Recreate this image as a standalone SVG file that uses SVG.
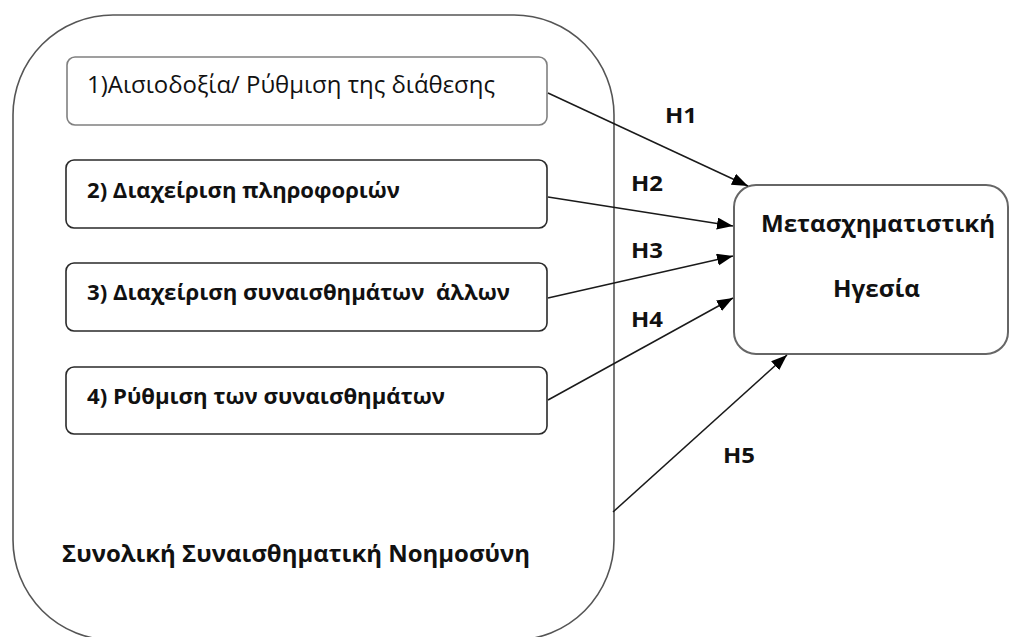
<svg xmlns="http://www.w3.org/2000/svg" width="1011" height="637" viewBox="0 0 1011 637">
<style>
  .t { font-family: "Open Sans", "Noto Sans", "DejaVu Sans", sans-serif; fill: #111; white-space: pre; }
  .b { font-weight: bold; }
  .box { fill: #fff; stroke: #2a2a2a; stroke-width: 1.6; }
  .box1 { fill: #fff; stroke: #808080; stroke-width: 1.6; }
  .outer { fill: none; stroke: #555; stroke-width: 1.6; }
  .target { fill: #fff; stroke: #666; stroke-width: 2; }
  .arr { stroke: #1a1a1a; stroke-width: 1.5; fill: none; marker-end: url(#ah); }
</style>
<defs>
  <marker id="ah" markerUnits="userSpaceOnUse" markerWidth="17" markerHeight="13" refX="16" refY="6" orient="auto">
    <path d="M0,0 L16,6 L0,12 z" fill="#000"/>
  </marker>
</defs>
<rect width="1011" height="637" fill="#fff"/>
<g id="outer-ei">
  <rect class="outer" x="13" y="15" width="601" height="625" rx="100" ry="100"/>
  <text class="t b" x="62" y="562" font-size="23" textLength="468" lengthAdjust="spacingAndGlyphs">Συνολική Συναισθηματική Νοημοσύνη</text>
</g>
<g id="node1">
  <rect class="box1" x="67" y="57" width="480" height="68" rx="8"/>
  <text class="t" x="87" y="93" font-size="23" textLength="408" lengthAdjust="spacingAndGlyphs">1)Αισιοδοξία/ Ρύθμιση της διάθεσης</text>
</g>
<g id="node2">
  <rect class="box" x="66" y="160" width="481" height="68" rx="8"/>
  <text class="t b" x="87" y="198" font-size="22" textLength="313" lengthAdjust="spacingAndGlyphs">2) Διαχείριση πληροφοριών</text>
</g>
<g id="node3">
  <rect class="box" x="66" y="263" width="481" height="68" rx="8"/>
  <text class="t b" x="87" y="300" font-size="22" textLength="423" lengthAdjust="spacingAndGlyphs">3) Διαχείριση συναισθημάτων  άλλων</text>
</g>
<g id="node4">
  <rect class="box" x="66" y="367" width="481" height="67" rx="8"/>
  <text class="t b" x="87" y="404" font-size="22" textLength="358" lengthAdjust="spacingAndGlyphs">4) Ρύθμιση των συναισθημάτων</text>
</g>
<g id="target">
  <rect class="target" x="734" y="185" width="274" height="169" rx="22"/>
  <text class="t b" x="761" y="232" font-size="24" textLength="234" lengthAdjust="spacingAndGlyphs">Μετασχηματιστική</text>
  <text class="t b" x="833" y="297" font-size="24" textLength="87" lengthAdjust="spacingAndGlyphs">Ηγεσία</text>
</g>
<g id="connectors">
  <line class="arr" x1="548" y1="93" x2="748" y2="186"/>
  <line class="arr" x1="548" y1="197" x2="733" y2="226"/>
  <line class="arr" x1="548" y1="298" x2="733" y2="256"/>
  <line class="arr" x1="548" y1="400" x2="733" y2="298"/>
  <line class="arr" x1="613" y1="512" x2="787" y2="355"/>
  <text class="t b" x="665" y="123" font-size="22" textLength="32" lengthAdjust="spacingAndGlyphs">H1</text>
  <text class="t b" x="631" y="191" font-size="22" textLength="32" lengthAdjust="spacingAndGlyphs">H2</text>
  <text class="t b" x="631" y="258" font-size="22" textLength="32" lengthAdjust="spacingAndGlyphs">H3</text>
  <text class="t b" x="631" y="327" font-size="22" textLength="32" lengthAdjust="spacingAndGlyphs">H4</text>
  <text class="t b" x="723" y="463" font-size="22" textLength="32" lengthAdjust="spacingAndGlyphs">H5</text>
</g>
</svg>
